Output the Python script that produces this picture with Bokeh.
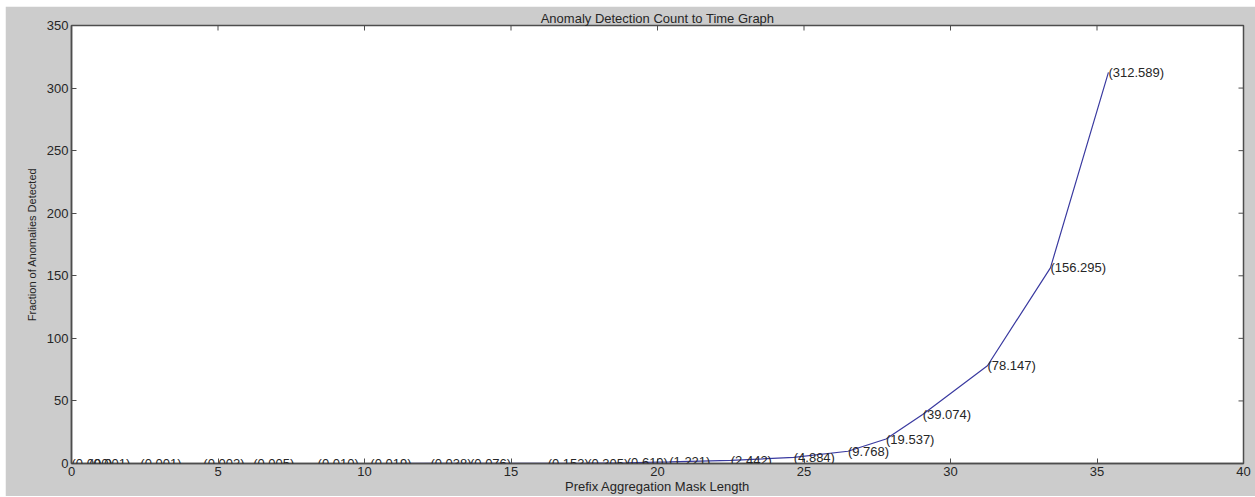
import math

from bokeh.plotting import figure
from bokeh.models import ColumnDataSource, LabelSet, Range1d, FixedTicker
from bokeh.core.properties import value
from bokeh.embed import file_html
from bokeh.resources import INLINE

# Prefix aggregation mask length (x) and the measured fraction of anomalies detected (y)
mask_length = [0.0, 0.6, 2.35, 4.5, 6.2, 8.4, 10.2, 12.25, 13.6, 16.25, 17.6,
               18.95, 20.4, 22.5, 24.65, 26.5, 27.8, 29.05, 31.26, 33.41, 35.39]
detected = [0.000, 0.001, 0.001, 0.002, 0.005, 0.010, 0.019, 0.038, 0.076, 0.153, 0.305,
            0.610, 1.221, 2.442, 4.884, 9.768, 19.537, 39.074, 78.147, 156.295, 312.589]
point_labels = ["(%.3f)" % v for v in detected]

x_ticks = [0, 5, 10, 15, 20, 25, 30, 35, 40]
y_ticks = [0, 50, 100, 150, 200, 250, 300, 350]
x_min, x_max = 0, 40
y_min, y_max = 0, 350

FONT = "Liberation Sans"
AXIS_COLOR = "#4d4d4d"
TEXT_COLOR = "#262626"

p = figure(
    width=1250, height=490,
    x_range=Range1d(x_min, x_max), y_range=Range1d(y_min, y_max),
    output_backend="svg", toolbar_location=None,
    title="Anomaly Detection Count to Time Graph",
    min_border_left=66, min_border_right=12, min_border_top=19, min_border_bottom=32,
    margin=(6, 0, 1, 5),
    background_fill_color="white", border_fill_color="#cccccc",
    outline_line_color=AXIS_COLOR, outline_line_width=1.5,
)
p.xgrid.visible = False
p.ygrid.visible = False

p.title.align = "center"
p.title.text_font = FONT
p.title.text_font_size = "13px"
p.title.text_font_style = "normal"
p.title.text_color = TEXT_COLOR
p.title.standoff = 0


def style_axis(ax, ticks):
    ax.ticker = FixedTicker(ticks=ticks)
    ax.major_tick_in = 5
    ax.major_tick_out = 0
    ax.minor_tick_line_color = None
    ax.axis_line_color = AXIS_COLOR
    ax.axis_line_width = 1.5
    ax.major_tick_line_color = AXIS_COLOR
    ax.major_label_text_font = FONT
    ax.major_label_text_color = TEXT_COLOR
    ax.major_label_text_font_size = "13px"
    ax.major_label_standoff = 3


xa = p.xaxis[0]
ya = p.yaxis[0]
style_axis(xa, x_ticks)
style_axis(ya, y_ticks)

xa.axis_label = "Prefix Aggregation Mask Length"
xa.axis_label_text_font = FONT
xa.axis_label_text_font_size = "13px"
xa.axis_label_text_font_style = "normal"
xa.axis_label_text_color = TEXT_COLOR
xa.axis_label_standoff = 0

ya.axis_label = "Fraction of Anomalies Detected"
ya.axis_label_text_font = FONT
ya.axis_label_text_font_size = "11px"
ya.axis_label_text_font_style = "normal"
ya.axis_label_text_color = TEXT_COLOR
ya.axis_label_standoff = 6

# inward tick marks mirrored on the top and right edges of the box
# (dash markers centred on the edge; the frame clips the outer half)
p.scatter(x=x_ticks, y=[y_max] * len(x_ticks), marker="dash", size=10,
          angle=math.pi / 2, line_color=AXIS_COLOR, line_width=1)
p.scatter(x=[x_max] * len(y_ticks), y=y_ticks, marker="dash", size=10,
          line_color=AXIS_COLOR, line_width=1)

src = ColumnDataSource(dict(x=mask_length, y=detected, label=point_labels))
p.line("x", "y", source=src, line_color="#3a3aa0", line_width=1.2)

labels = LabelSet(
    x="x", y="y", text="label", source=src,
    text_font=value(FONT), text_font_size=value("13px"),
    text_align="left", text_baseline="middle",
    text_color=TEXT_COLOR,
)
p.add_layout(labels)

open("out.html", "w").write(file_html(p, INLINE))
